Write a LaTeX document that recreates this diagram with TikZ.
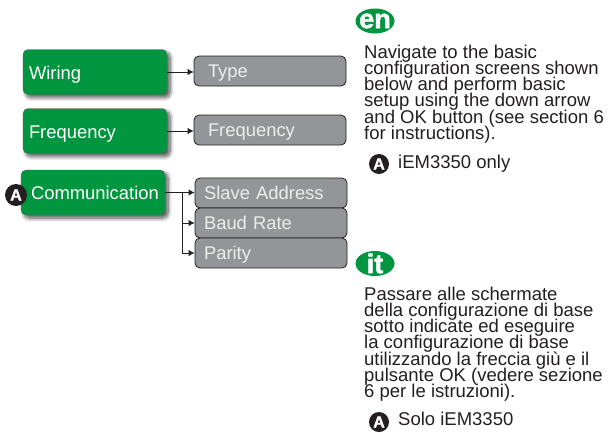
\documentclass[tikz,border=0pt]{standalone}
\usepackage{fontspec}
\setmainfont{Liberation Sans}
\newfontfamily\badgefont[BoldFeatures={FakeBold=1.5}]{Liberation Sans}
\usetikzlibrary{shadows.blur, shapes.geometric, arrows.meta}
\definecolor{sgreen}{RGB}{0,150,64}
\definecolor{sgray}{RGB}{147,149,152}
\definecolor{sblack}{RGB}{35,31,32}
\newcommand{\tightlines}{\fontsize{18.5}{16.1}\selectfont\setlength{\lineskiplimit}{-20pt}}

\begin{document}
\begin{tikzpicture}[
x=1pt, y=-1pt,
greenbox/.style={rectangle, rounded corners=5pt, draw=black!60, fill=sgreen, text=white, font=\fontsize{18.4}{20}\selectfont, minimum width=144pt, minimum height=45pt, inner xsep=6pt, text width=132pt, text height=14.5pt, text depth=0pt, align=left, blur shadow={shadow xshift=3pt, shadow yshift=-3pt, shadow blur steps=8, shadow blur radius=4pt, shadow opacity=70}},
graybox/.style={rectangle, rounded corners=5pt, draw=sblack, thick, fill=sgray, text=white!93!black, font=\fontsize{18.4}{20}\selectfont, minimum width=152pt, minimum height=30pt, inner xsep=9pt, text width=134pt, text height=13.5pt, text depth=0pt, align=left},
langbadge/.style={ellipse, fill=sgreen, text=white, font=\fontsize{27}{27}\selectfont\badgefont\bfseries, minimum width=39pt, minimum height=25pt, inner sep=-10pt},
noteball/.style={circle, fill=sblack, text=white, font=\fontsize{16}{16}\selectfont\badgefont\bfseries, minimum size=20pt, inner sep=0pt},
bodytext/.style={anchor=north west, inner sep=0pt, align=left, text=sblack, font=\tightlines},
notetext/.style={anchor=base west, inner sep=0pt, text=sblack, font=\fontsize{18.5}{20}\selectfont},
link/.style={-{Latex[length=6pt,width=6.5pt]}, line width=0.9pt, draw=sblack},
]
\useasboundingbox (0,0) rectangle (608,432);

\node[greenbox] (wiring) at (95,72) {Wiring};
\node[graybox, inner xsep=14pt, text width=124pt] (type) at (270,71) {Type};
\node[greenbox] (freq) at (95,131) {Frequency};
\node[graybox, inner xsep=14pt, text width=124pt] (freqval) at (270,130) {Frequency};
\node[greenbox, inner xsep=10pt, text width=124pt] (comm) at (93,192.5) {Communication};
\node[graybox] (slave) at (271,193) {Slave Address};
\node[graybox] (baud) at (271,223) {Baud Rate};
\node[graybox] (parity) at (271,253) {Parity};
\node[noteball, minimum size=22pt] (markA) at (16,195) {A};

\draw[link] (wiring.east) -- (type.west |- wiring.east);
\draw[link] (freq.east) -- (freqval.west |- freq.east);
\draw[link] (comm.east) -- (slave.west |- comm.east);
\coordinate (fork) at (182,192.5);
\draw[link] (fork) |- (baud.west);
\draw[link] (fork) |- (parity.west);

\node[langbadge] (en) at (375,21) {en};
\node[bodytext] (entext) at (364,45) {Navigate to the basic\\configuration screens shown\\below and perform basic\\setup using the down arrow\\and OK button (see section 6\\for instructions).};
\node[noteball] (enA) at (379,164) {A};
\node[notetext] (ennote) at (398,168.5) {iEM3350 only};

\node[langbadge] (it) at (375,263.5) {it};
\node[bodytext] (ittext) at (364,287) {Passare alle schermate\\della configurazione di base\\sotto indicate ed eseguire\\la configurazione di base\\utilizzando la freccia giù e il\\pulsante OK (vedere sezione\\6 per le istruzioni).};
\node[noteball] (itA) at (379,422) {A};
\node[notetext] (itnote) at (398,425.5) {Solo iEM3350};
\end{tikzpicture}
\end{document}
